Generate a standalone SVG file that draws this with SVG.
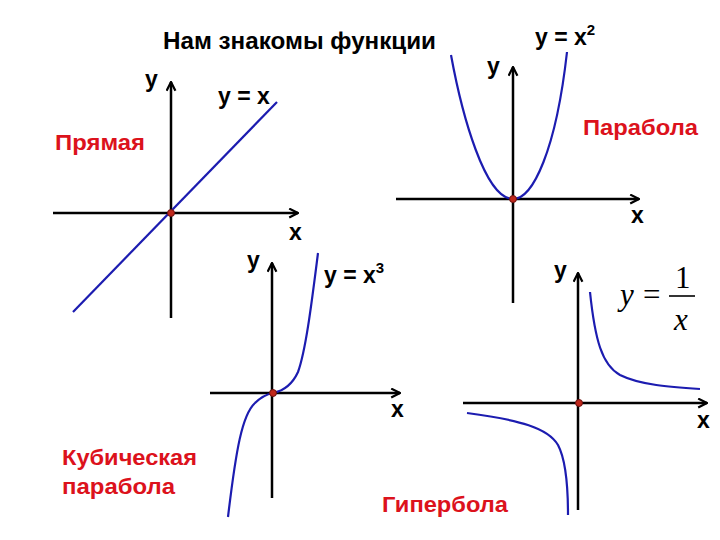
<svg xmlns="http://www.w3.org/2000/svg" width="720" height="540" viewBox="0 0 720 540">
<style>
.axis{stroke:#000;stroke-width:2.5;fill:none;marker-end:url(#arr)}
.curve{stroke:#1c1cb0;stroke-width:2.2;fill:none}
.lbl{font-family:"Liberation Sans",Arial,sans-serif;font-weight:bold;font-size:23px;fill:#000}
.red{font-family:"Liberation Sans",Arial,sans-serif;font-weight:bold;font-size:22px;fill:#dc121c}
.sup{font-size:15px}
.dot{fill:#c0281c;stroke:#6a1010;stroke-width:1}
.math{font-family:"Liberation Serif","Times New Roman",serif;font-size:31px;fill:#000}
</style>
<defs>
<marker id="arr" viewBox="0 0 10 10" refX="9" refY="5" markerUnits="userSpaceOnUse" markerWidth="11" markerHeight="11" orient="auto">
<path d="M1,1 L9,5 L1,9" fill="none" stroke="#000" stroke-width="2"/>
</marker>
</defs>
<rect width="720" height="540" fill="#fff"/>
<text class="lbl" x="163" y="49" font-size="24" textLength="273" lengthAdjust="spacingAndGlyphs">Нам знакомы функции</text>

<g id="connectors">
<path class="axis" d="M53,213 L298,213"/>
<path class="axis" d="M171,318 L171,82"/>
<path class="axis" d="M396,199 L639,199"/>
<path class="axis" d="M513,303 L513,67"/>
<path class="axis" d="M210,393 L400,393"/>
<path class="axis" d="M272,498 L272,263"/>
<path class="axis" d="M463,403 L707,403"/>
<path class="axis" d="M578,510 L578,273"/>
</g>

<g id="line-graph">
<path class="curve" d="M73,312 L277,102"/>
<circle class="dot" cx="171" cy="213" r="3.5"/>
<text class="lbl" x="145" y="87">y</text>
<text class="lbl" x="218" y="104">y = x</text>
<text class="lbl" x="289" y="240">x</text>
<text class="red" x="55" y="150" textLength="90" lengthAdjust="spacingAndGlyphs">Прямая</text>
</g>

<g id="parabola-graph">
<path class="curve" d="M451,55 C462,115 485,199 513,199 C533,199 556,150 567,52"/>
<circle class="dot" cx="513" cy="199" r="3.5"/>
<text class="lbl" x="487" y="74">y</text>
<text class="lbl" x="535" y="45">y = x<tspan class="sup" dy="-10">2</tspan></text>
<text class="lbl" x="631" y="223">x</text>
<text class="red" x="583" y="135" textLength="115" lengthAdjust="spacingAndGlyphs">Парабола</text>
</g>

<g id="cubic-graph">
<path class="curve" d="M228,517 C236,450 242,415 255,403 C262,396 268,394 273,393 C283,391 292,385 298,372 C306,350 312,300 318,253"/>
<circle class="dot" cx="273" cy="393" r="3.5"/>
<text class="lbl" x="247" y="268">y</text>
<text class="lbl" x="324" y="283">y = x<tspan class="sup" dy="-10">3</tspan></text>
<text class="lbl" x="391" y="417">x</text>
<text class="red" x="62" y="465" textLength="135" lengthAdjust="spacingAndGlyphs">Кубическая</text>
<text class="red" x="62" y="494" textLength="113" lengthAdjust="spacingAndGlyphs">парабола</text>
</g>

<g id="hyperbola-graph">
<path class="curve" d="M590,292 C595,340 602,365 620,375 C640,385 670,387 700,389"/>
<path class="curve" d="M467,413 C520,420 548,428 558,445 C566,460 568,490 568,515"/>
<circle class="dot" cx="579" cy="403" r="3.5"/>
<text class="lbl" x="554" y="278">y</text>
<text class="lbl" x="697" y="428">x</text>
<text class="red" x="382" y="512" textLength="126" lengthAdjust="spacingAndGlyphs">Гипербола</text>
<text class="math" x="620" y="305" font-style="italic">y</text>
<text class="math" x="643" y="305">=</text>
<text class="math" x="675" y="288">1</text>
<line x1="669" y1="296" x2="695" y2="296" stroke="#000" stroke-width="1.6"/>
<text class="math" x="674" y="330" font-style="italic">x</text>
</g>
</svg>
